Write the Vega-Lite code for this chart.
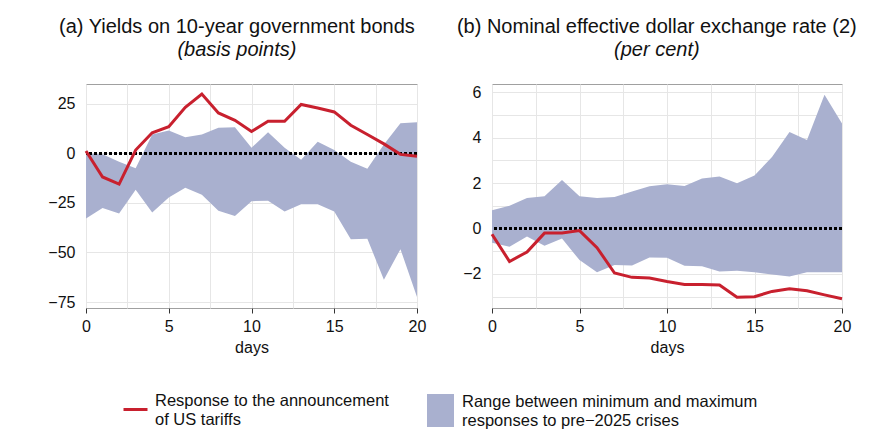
{
  "$schema": "https://vega.github.io/schema/vega-lite/v6.json",
  "description": "Responses of bond yields and the dollar to the US tariff announcement, against the range of responses to earlier crises.",
  "padding": {"left": 47, "top": 16, "right": 10, "bottom": 5},
  "datasets": {
    "yields": [
      {"day": 0, "lo": -32.8, "hi": 0, "resp": 1.2},
      {"day": 1, "lo": -27.6, "hi": -0.5, "resp": -11.9},
      {"day": 2, "lo": -30.3, "hi": -4.2, "resp": -15.5},
      {"day": 3, "lo": -18.4, "hi": -7.5, "resp": 1.7},
      {"day": 4, "lo": -29.8, "hi": 9.5, "resp": 10.4},
      {"day": 5, "lo": -22.2, "hi": 11.5, "resp": 13.5},
      {"day": 6, "lo": -17.4, "hi": 8.2, "resp": 23.2},
      {"day": 7, "lo": -20.9, "hi": 9.5, "resp": 29.9},
      {"day": 8, "lo": -28.9, "hi": 12.9, "resp": 20.4},
      {"day": 9, "lo": -31.6, "hi": 13.2, "resp": 16.7},
      {"day": 10, "lo": -24.1, "hi": 2.8, "resp": 11.0},
      {"day": 11, "lo": -23.9, "hi": 10.7, "resp": 16.2},
      {"day": 12, "lo": -29.3, "hi": 2.8, "resp": 16.2},
      {"day": 13, "lo": -25.6, "hi": -3.2, "resp": 24.7},
      {"day": 14, "lo": -25.6, "hi": 5.9, "resp": 22.9},
      {"day": 15, "lo": -29.3, "hi": 1.7, "resp": 20.9},
      {"day": 16, "lo": -43.3, "hi": -4.2, "resp": 14.2},
      {"day": 17, "lo": -43.1, "hi": -7.7, "resp": 9.5},
      {"day": 18, "lo": -63.7, "hi": 4.5, "resp": 4.8},
      {"day": 19, "lo": -48.3, "hi": 15.2, "resp": -0.5},
      {"day": 20, "lo": -72.4, "hi": 15.7, "resp": -1.5}
    ],
    "fx": [
      {"day": 0, "lo": -0.62, "hi": 0.81, "resp": -0.25},
      {"day": 1, "lo": -0.8, "hi": 1.0, "resp": -1.45},
      {"day": 2, "lo": -0.35, "hi": 1.35, "resp": -1.03},
      {"day": 3, "lo": -0.76, "hi": 1.42, "resp": -0.2},
      {"day": 4, "lo": -0.44, "hi": 2.14, "resp": -0.2},
      {"day": 5, "lo": -1.39, "hi": 1.42, "resp": -0.09},
      {"day": 6, "lo": -1.93, "hi": 1.35, "resp": -0.84},
      {"day": 7, "lo": -1.6, "hi": 1.39, "resp": -1.96},
      {"day": 8, "lo": -1.63, "hi": 1.63, "resp": -2.15},
      {"day": 9, "lo": -1.27, "hi": 1.86, "resp": -2.18},
      {"day": 10, "lo": -1.29, "hi": 1.95, "resp": -2.33},
      {"day": 11, "lo": -1.64, "hi": 1.88, "resp": -2.46},
      {"day": 12, "lo": -1.66, "hi": 2.21, "resp": -2.46},
      {"day": 13, "lo": -1.89, "hi": 2.29, "resp": -2.49},
      {"day": 14, "lo": -1.86, "hi": 2.0, "resp": -3.03},
      {"day": 15, "lo": -1.93, "hi": 2.34, "resp": -3.0},
      {"day": 16, "lo": -2.02, "hi": 3.15, "resp": -2.77},
      {"day": 17, "lo": -2.11, "hi": 4.25, "resp": -2.65},
      {"day": 18, "lo": -1.92, "hi": 3.9, "resp": -2.74},
      {"day": 19, "lo": -1.92, "hi": 5.9, "resp": -2.92},
      {"day": 20, "lo": -1.92, "hi": 4.63, "resp": -3.09}
    ]
  },
  "spacing": 29,
  "hconcat": [
    {
      "width": 331,
      "height": 224,
      "title": {"text": "(a) Yields on 10-year government bonds", "subtitle": "(basis points)", "frame": "bounds"},
      "data": {"name": "yields"},
      "layer": [
        {
          "mark": {"type": "area"},
          "encoding": {
            "x": {
              "field": "day",
              "type": "quantitative",
              "scale": {"domain": [0, 20], "nice": false},
              "axis": {
                "title": "days",
                "values": [0, 2.5, 5, 7.5, 10, 12.5, 15, 17.5, 20],
                "labelExpr": "datum.value % 5 == 0 ? datum.label : ''",
                "tickOpacity": {"condition": {"test": "datum.value % 5 == 0", "value": 1}, "value": 0}
              }
            },
            "y": {
              "field": "hi",
              "type": "quantitative",
              "scale": {"domain": [-78, 35], "nice": false, "zero": false},
              "axis": {
                "title": null,
                "values": [-75, -62.5, -50, -37.5, -25, -12.5, 0, 12.5, 25],
                "labelExpr": "datum.value % 25 == 0 ? datum.label : ''"
              }
            },
            "y2": {"field": "lo"},
            "fill": {
              "datum": "Range between minimum and maximum responses to pre−2025 crises",
              "type": "nominal",
              "scale": {"range": ["#a9b0cf"]},
              "legend": {
                "labelExpr": "['Range between minimum and maximum', 'responses to pre−2025 crises']",
                "symbolType": "M-0.818,-1H0.818V1H-0.818Z",
                "symbolSize": 1089,
                "symbolOpacity": 1,
                "symbolStrokeWidth": 0,
                "labelOffset": 5,
                "legendX": 338,
                "legendY": 310,
                "encode": {"labels": {"update": {"dy": {"value": -8.5}}}}
              }
            }
          }
        },
        {
          "mark": {"type": "rule", "color": "#000000", "strokeWidth": 2.5, "strokeDash": [2.5, 2.5]},
          "encoding": {"y": {"datum": 0}}
        },
        {
          "mark": {"type": "line", "strokeWidth": 3},
          "encoding": {
            "x": {"field": "day", "type": "quantitative"},
            "y": {"field": "resp", "type": "quantitative"},
            "stroke": {
              "datum": "Response to the announcement of US tariffs",
              "type": "nominal",
              "scale": {"range": ["#c8202e"]},
              "legend": {
                "labelExpr": "['Response to the announcement', 'of US tariffs']",
                "symbolType": "stroke",
                "symbolSize": 576,
                "symbolStrokeWidth": 3,
                "labelOffset": 6,
                "legendX": 36,
                "legendY": 312,
                "encode": {"labels": {"update": {"dy": {"value": -8.5}}}}
              }
            }
          }
        }
      ]
    },
    {
      "width": 350,
      "height": 224,
      "title": {"text": "(b) Nominal effective dollar exchange rate (2)", "subtitle": "(per cent)", "frame": "bounds"},
      "data": {"name": "fx"},
      "layer": [
        {
          "mark": {"type": "area"},
          "encoding": {
            "x": {
              "field": "day",
              "type": "quantitative",
              "scale": {"domain": [0, 20], "nice": false},
              "axis": {
                "title": "days",
                "values": [0, 2.5, 5, 7.5, 10, 12.5, 15, 17.5, 20],
                "labelExpr": "datum.value % 5 == 0 ? datum.label : ''",
                "tickOpacity": {"condition": {"test": "datum.value % 5 == 0", "value": 1}, "value": 0}
              }
            },
            "y": {
              "field": "hi",
              "type": "quantitative",
              "scale": {"domain": [-3.5, 6.37], "nice": false, "zero": false},
              "axis": {
                "title": null,
                "values": [-2, 0, 2, 4, 6]
              }
            },
            "y2": {"field": "lo"},
            "fill": {
              "datum": "Range between minimum and maximum responses to pre−2025 crises",
              "type": "nominal"
            }
          }
        },
        {
          "mark": {"type": "rule", "color": "#000000", "strokeWidth": 2.5, "strokeDash": [2.5, 2.5]},
          "encoding": {
            "y": {
              "datum": 0,
              "type": "quantitative",
              "axis": {
                "orient": "right",
                "title": null,
                "values": [-3, -1, 1, 3, 5],
                "labels": false,
                "ticks": false,
                "domain": false,
                "grid": true
              }
            }
          }
        },
        {
          "mark": {"type": "line", "strokeWidth": 3},
          "encoding": {
            "x": {"field": "day", "type": "quantitative"},
            "y": {"field": "resp", "type": "quantitative", "axis": null},
            "stroke": {
              "datum": "Response to the announcement of US tariffs",
              "type": "nominal"
            }
          }
        }
      ],
      "resolve": {"axis": {"y": "independent"}}
    }
  ],
  "resolve": {
    "scale": {"x": "independent", "y": "independent", "fill": "shared", "stroke": "shared"},
    "axis": {"x": "independent", "y": "independent"},
    "legend": {"fill": "shared", "stroke": "shared"}
  },
  "config": {
    "font": "Liberation Sans",
    "view": {"stroke": "#a0a0a0", "strokeWidth": 1},
    "title": {
      "fontSize": 20,
      "fontWeight": "normal",
      "color": "#111111",
      "subtitleFontSize": 20,
      "subtitleFontStyle": "italic",
      "subtitleColor": "#111111",
      "subtitlePadding": 3,
      "offset": 24
    },
    "axis": {
      "labelFontSize": 16,
      "labelColor": "#111111",
      "titleFontSize": 16,
      "titleFontWeight": "normal",
      "titleColor": "#111111",
      "grid": true,
      "gridColor": "#e6e6e6",
      "gridWidth": 1,
      "labelFlush": false,
      "domain": false
    },
    "axisX": {"ticks": true, "tickColor": "#333333", "tickSize": 5, "labelPadding": 5, "titlePadding": 5},
    "axisY": {"ticks": false, "labelPadding": 11},
    "legend": {
      "orient": "none",
      "title": null,
      "labelFontSize": 16.5,
      "labelColor": "#111111",
      "labelLimit": 400,
      "padding": 0
    }
  }
}
